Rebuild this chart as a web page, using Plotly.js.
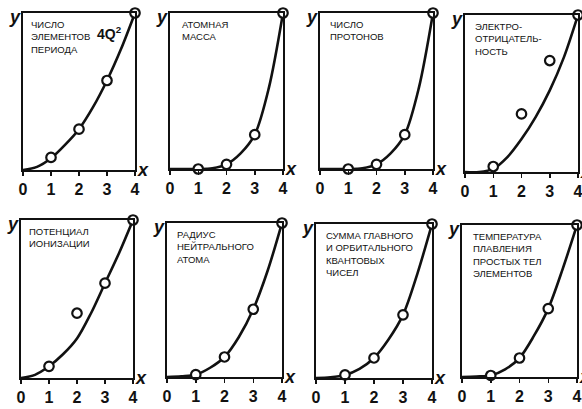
<!DOCTYPE html>
<html>
<head>
<meta charset="utf-8">
<script src="https://cdn.plot.ly/plotly-3.0.1.min.js"></script>
<style>html,body{margin:0;padding:0;background:#fff;}#chart{width:582px;height:409px;}</style>
</head>
<body>
<div id="chart"></div>
<script>
// ---- data (normalized y) ----
const tickValues = [0, 1, 2, 3, 4];
const tickLabels = ["0", "1", "2", "3", "4"];
const pointX = [1, 2, 3, 4];
const curveX = [0, 0.5, 1, 1.5, 2, 2.5, 3, 3.5, 4];

const panelTitles = [
  "ЧИСЛО<br>ЭЛЕМЕНТОВ<br>ПЕРИОДА",
  "АТОМНАЯ<br>МАССА",
  "ЧИСЛО<br>ПРОТОНОВ",
  "ЭЛЕКТРО-<br>ОТРИЦАТЕЛЬ-<br>НОСТЬ",
  "ПОТЕНЦИАЛ<br>ИОНИЗАЦИИ",
  "РАДИУС<br>НЕЙТРАЛЬНОГО<br>АТОМА",
  "СУММА ГЛАВНОГО<br>И ОРБИТАЛЬНОГО<br>КВАНТОВЫХ<br>ЧИСЕЛ",
  "ТЕМПЕРАТУРА<br>ПЛАВЛЕНИЯ<br>ПРОСТЫХ ТЕЛ<br>ЭЛЕМЕНТОВ"
];
const formulaLabel = "4Q<sup>2</sup>";

const points1 = [0.08, 0.26, 0.57, 1];
const points2 = [0, 0.03, 0.22, 1];
const points3 = [0, 0.03, 0.22, 1];
const points4 = [0.035, 0.37, 0.71, 1];
const points5 = [0.074, 0.41, 0.60, 1];
const points6 = [0.015, 0.13, 0.44, 1];
const points7 = [0.02, 0.13, 0.41, 1];
const points8 = [0.01, 0.125, 0.45, 1];

const curve1 = [0, 0.02, 0.075, 0.16, 0.26, 0.40, 0.57, 0.77, 1];
const curve2 = [0, 0, 0, 0.005, 0.03, 0.10, 0.22, 0.52, 1];
const curve3 = [0, 0, 0, 0.005, 0.03, 0.10, 0.22, 0.52, 1];
const curve4 = [0, 0, 0.02, 0.095, 0.21, 0.35, 0.52, 0.73, 1];
const curve5 = [0, 0.02, 0.074, 0.15, 0.25, 0.41, 0.60, 0.79, 1];
const curve6 = [0, 0.005, 0.015, 0.06, 0.13, 0.26, 0.44, 0.69, 1];
const curve7 = [0, 0.005, 0.02, 0.06, 0.13, 0.25, 0.41, 0.68, 1];
const curve8 = [0, 0.003, 0.01, 0.05, 0.125, 0.27, 0.45, 0.71, 1];

const allPoints = [points1, points2, points3, points4, points5, points6, points7, points8];
const allCurves = [curve1, curve2, curve3, curve4, curve5, curve6, curve7, curve8];

// ---- layout geometry (pixel boxes) ----
const W = 582, H = 409;
const boxes = [
  [23, 135, 13, 170], [170, 283, 13, 169], [320, 433, 13, 169], [465, 578, 15, 172],
  [21, 133, 220, 378], [167, 282, 223, 377], [316, 432, 224, 378], [462, 577, 225, 377]
];
const textInset = [8, 12, 10, 10, 8, 10, 10, 11];

const traces = [];
const layout = {
  width: W, height: H,
  margin: {l: 0, r: 0, t: 0, b: 0},
  paper_bgcolor: "#ffffff", plot_bgcolor: "#ffffff",
  showlegend: false,
  annotations: []
};

const tickFont = {family: "'Liberation Sans Narrow', 'Liberation Sans', Arial, sans-serif", size: 16, color: "#111", weight: "bold"};
const labelFont = {family: "'Liberation Sans', Arial, sans-serif", size: 9.5, color: "#111"};
const varFont = {family: "'Liberation Sans', Arial, sans-serif", size: 18, color: "#111", weight: "bold", style: "italic"};

for (let i = 0; i < 8; i++) {
  const n = i + 1;
  const sx = n === 1 ? "" : String(n);
  const xa = "x" + sx, ya = "y" + sx;
  const [l, r, t, b] = boxes[i];
  traces.push({
    x: curveX, y: allCurves[i], xaxis: xa, yaxis: ya,
    mode: "lines", line: {color: "#111", width: 2.6, shape: "spline", smoothing: 0.9},
    hoverinfo: "skip", cliponaxis: false
  });
  traces.push({
    x: pointX, y: allPoints[i], xaxis: xa, yaxis: ya,
    mode: "markers", cliponaxis: false,
    marker: {size: 9.5, color: "#ffffff", line: {color: "#111", width: 2.2}}
  });
  layout["xaxis" + sx] = {
    domain: [l / W, r / W], anchor: ya, range: [0, 4],
    showline: true, mirror: true, linewidth: 2, linecolor: "#111",
    showgrid: false, zeroline: false,
    tickmode: "array", tickvals: tickValues, ticktext: tickLabels,
    ticks: "outside", ticklen: 4, tickwidth: 1.5, tickcolor: "#111",
    ticklabeloverflow: "allow",
    tickfont: tickFont, fixedrange: true
  };
  layout["yaxis" + sx] = {
    domain: [1 - b / H, 1 - t / H], anchor: xa, range: [0, 1],
    showline: true, mirror: true, linewidth: 2, linecolor: "#111",
    showgrid: false, zeroline: false, showticklabels: false, ticks: "",
    fixedrange: true
  };
  layout.annotations.push({
    xref: xa + " domain", yref: ya + " domain", x: 0, y: 1,
    xanchor: "left", yanchor: "top", xshift: textInset[i] - 2, yshift: -4,
    align: "left", showarrow: false, text: panelTitles[i], font: labelFont
  });
  layout.annotations.push({
    xref: xa + " domain", yref: ya + " domain", x: 0, y: 1,
    xanchor: "center", yanchor: "middle", xshift: -8, yshift: -4,
    showarrow: false, text: "y", font: varFont
  });
  layout.annotations.push({
    xref: xa + " domain", yref: ya + " domain", x: 1, y: 0,
    xanchor: "center", yanchor: "middle", xshift: 8, yshift: 0,
    showarrow: false, text: "x", font: varFont
  });
}
layout.annotations.push({
  xref: "x domain", yref: "y domain", x: 0, y: 1,
  xanchor: "left", yanchor: "middle", xshift: 72, yshift: -20,
  showarrow: false, text: formulaLabel,
  font: {family: "'Liberation Sans', Arial, sans-serif", size: 14, color: "#111", weight: "bold"}
});

Plotly.newPlot("chart", traces, layout, {displayModeBar: false, staticPlot: true});
</script>
</body>
</html>
